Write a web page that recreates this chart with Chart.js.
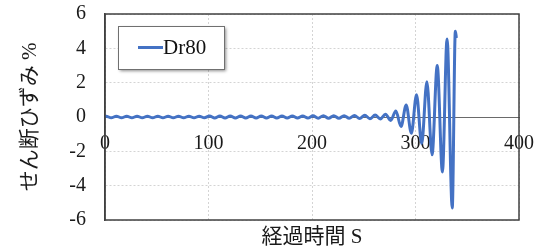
<!DOCTYPE html>
<html>
<head>
<meta charset="utf-8">
<script src="https://cdn.jsdelivr.net/npm/chart.js@4"></script>
<style>
  html, body { margin: 0; padding: 0; background: #fff; }
</style>
</head>
<body>
<canvas id="strainChart" width="546" height="252"></canvas>
<script>
const seriesName = 'Dr80';
const xTitle = '経過時間 S';
const yTitle = 'せん断ひずみ %';

// elapsed time (s) of each peak / trough
const timeSec = [
  0, 1, 6, 11, 16, 21, 26, 31, 36, 41, 46, 51, 56, 61, 66, 71, 76, 81, 86, 91, 96,
  101, 106, 111, 116, 121, 126, 131, 136, 141, 146, 151, 156, 161, 166, 171, 176, 181, 186, 191, 196,
  201, 206, 211, 216, 221, 226, 231, 236, 241, 246, 251, 256, 261, 266,
  271, 276, 281, 286, 291, 296, 301, 306, 311, 316, 321, 326, 330.5, 335.5, 338.5, 339.5
];
// shear strain (%)
const shearStrain = [
  0, 0.05, -0.05, 0.05, -0.05, 0.05, -0.05, 0.05, -0.05, 0.05, -0.05, 0.05, -0.05, 0.05, -0.05, 0.05, -0.05, 0.05, -0.05, 0.05, -0.05,
  0.06, -0.06, 0.06, -0.06, 0.06, -0.06, 0.06, -0.06, 0.06, -0.06, 0.06, -0.06, 0.06, -0.06, 0.06, -0.06, 0.06, -0.06, 0.06, -0.06,
  0.07, -0.07, 0.08, -0.08, 0.08, -0.08, 0.08, -0.08, 0.09, -0.09, 0.1, -0.1, 0.11, -0.12,
  0.16, -0.2, 0.35, -0.55, 0.7, -0.95, 1.3, -1.55, 2.05, -2.2, 3.0, -3.2, 4.55, -5.3, 5.0, 4.6
];

const serif = '"Liberation Serif", "Noto Sans CJK JP", serif';
const lineBlue = '#4472C4';

// plot frame round the chart area
const framePlugin = {
  id: 'frame',
  afterDatasetsDraw(chart) {
    const { ctx, chartArea: a } = chart;
    ctx.save();
    ctx.strokeStyle = '#404040';
    ctx.lineWidth = 1.5;
    ctx.strokeRect(a.left, a.top, a.right - a.left, a.bottom - a.top);
    ctx.restore();
  }
};

// legend box inside the plot, with a small drop shadow
const boxLegend = {
  id: 'boxLegend',
  afterDraw(chart) {
    const { ctx, chartArea: a } = chart;
    const ds = chart.data.datasets[0];
    const x = a.left + 13, y = a.top + 12, w = 106, h = 43;
    ctx.save();
    ctx.shadowColor = 'rgba(0,0,0,0.45)';
    ctx.shadowBlur = 3;
    ctx.shadowOffsetX = 2;
    ctx.shadowOffsetY = 2;
    ctx.fillStyle = '#fff';
    ctx.fillRect(x, y, w, h);
    ctx.shadowColor = 'transparent';
    ctx.strokeStyle = '#707070';
    ctx.lineWidth = 1;
    ctx.strokeRect(x + 0.5, y + 0.5, w, h);
    ctx.strokeStyle = ds.borderColor;
    ctx.lineWidth = 3;
    ctx.beginPath();
    ctx.moveTo(x + 20, y + h / 2);
    ctx.lineTo(x + 45, y + h / 2);
    ctx.stroke();
    ctx.fillStyle = '#111';
    ctx.font = '21px ' + serif;
    ctx.textBaseline = 'middle';
    ctx.fillText(ds.label, x + 45, y + h / 2 + 1);
    ctx.restore();
  }
};

const ctx = document.getElementById('strainChart').getContext('2d');
new Chart(ctx, {
  type: 'line',
  data: {
    datasets: [{
      label: seriesName,
      data: timeSec.map((t, i) => ({ x: t, y: shearStrain[i] })),
      borderColor: lineBlue,
      borderWidth: 3,
      pointRadius: 0,
      cubicInterpolationMode: 'monotone',
      fill: false
    }]
  },
  options: {
    responsive: false,
    animation: false,
    layout: { padding: { top: 14, right: 27, left: 0, bottom: 0 } },
    plugins: {
      legend: { display: false },
      tooltip: { enabled: false }
    },
    scales: {
      x: {
        type: 'linear',
        position: { y: 0 },
        min: 0,
        max: 400,
        ticks: {
          stepSize: 100,
          padding: 9,
          color: '#1a1a1a',
          font: { family: serif, size: 20 },
          maxRotation: 0
        },
        grid: { color: '#d4d4d4', drawTicks: true, tickLength: 6, tickColor: 'rgba(0,0,0,0)' },
        border: { display: true, color: '#6a6a6a', width: 1, dash: [2, 2] }
      },
      xTitleAxis: {
        type: 'linear',
        position: 'bottom',
        axis: 'x',
        min: 0,
        max: 400,
        ticks: { display: false },
        grid: { display: false, drawTicks: false },
        border: { display: false },
        title: {
          display: true,
          text: xTitle,
          color: '#1a1a1a',
          font: { family: serif, size: 21 },
          padding: { top: 0, bottom: 2 }
        },
        afterFit(scale) { scale.height = 32; }
      },
      y: {
        min: -6,
        max: 6,
        ticks: {
          stepSize: 2,
          padding: 0,
          color: '#1a1a1a',
          font: { family: serif, size: 20 }
        },
        // invisible tick marks keep the labels clear of the frame
        grid: { color: '#d4d4d4', drawTicks: true, tickLength: 19, tickColor: 'rgba(0,0,0,0)' },
        border: { display: true, color: '#404040', width: 1.5, dash: [2, 2] },
        title: {
          display: true,
          text: yTitle,
          color: '#1a1a1a',
          font: { family: serif, size: 21 },
          padding: { top: 18, bottom: 0 }
        },
        afterFit(scale) { scale.width = 105; }
      }
    }
  },
  plugins: [framePlugin, boxLegend]
});
</script>
</body>
</html>
